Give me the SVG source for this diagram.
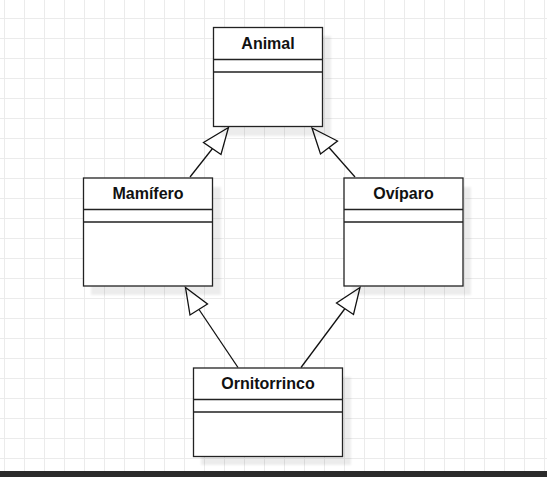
<svg xmlns="http://www.w3.org/2000/svg" width="547" height="477" viewBox="0 0 547 477">
<defs>
<pattern id="grid" x="4" y="18" width="20" height="20" patternUnits="userSpaceOnUse">
<path d="M0 0.5H20M0.5 0V20" fill="none" stroke="#ebebeb" stroke-width="1"/>
</pattern>
<filter id="blur" x="-10%" y="-10%" width="120%" height="120%"><feGaussianBlur stdDeviation="1"/></filter>
</defs>
<style>
.box{fill:#fff;stroke:#222;stroke-width:1.3}
.sh{fill:#000;opacity:0.07;filter:url(#blur)}
.sep{stroke:#222;stroke-width:1.3;fill:none}
.lbl{font-family:"Liberation Sans",Arial,sans-serif;font-weight:bold;font-size:16px;fill:#111;text-anchor:middle}
.ln{stroke:#111;stroke-width:1.3;fill:none}
.tri{fill:#fff;stroke:#111;stroke-width:1.3;stroke-linejoin:miter}
</style>
<rect width="547" height="477" fill="#fff"/>
<rect width="547" height="477" fill="url(#grid)"/>
<g id="connectors">
<path class="ln" d="M190 177 L212.5 148.5"/>
<polygon class="tri" points="228.5,127.5 203.5,142.5 221,154.5"/>
<path class="ln" d="M355 177 L329 147.5"/>
<polygon class="tri" points="312,128 337.5,141 320.5,154"/>
<path class="ln" d="M238 367.5 L199 309.5"/>
<polygon class="tri" points="185.5,287.5 190,315 207.5,304"/>
<path class="ln" d="M301 367.5 L345 308.5"/>
<polygon class="tri" points="360,287.5 336.5,303 353.5,314.5"/>
</g>
<g id="animal">
<rect class="sh" x="221" y="36" width="110" height="100"/>
<rect class="box" x="213.5" y="27.5" width="109" height="99"/>
<path class="sep" d="M213.5 59.5H322.5M213.5 72H322.5"/>
<text class="lbl" x="268" y="48.5">Animal</text>
</g>
<g id="mamifero">
<rect class="sh" x="91" y="187" width="130" height="108"/>
<rect class="box" x="83.5" y="178" width="129" height="108"/>
<path class="sep" d="M83.5 209.5H212.5M83.5 222H212.5"/>
<text class="lbl" x="148" y="199">Mamífero</text>
</g>
<g id="oviparo">
<rect class="sh" x="352" y="187" width="119" height="108"/>
<rect class="box" x="344" y="178" width="119" height="108"/>
<path class="sep" d="M344 209.5H463M344 222H463"/>
<text class="lbl" x="403.5" y="199">Ovíparo</text>
</g>
<g id="ornitorrinco">
<rect class="sh" x="201" y="377" width="150" height="88"/>
<rect class="box" x="193.5" y="368" width="149" height="88.5"/>
<path class="sep" d="M193.5 399.5H342.5M193.5 412H342.5"/>
<text class="lbl" x="268" y="389">Ornitorrinco</text>
</g>
<rect x="0" y="471" width="547" height="6" fill="#2b2b2b"/>
</svg>
